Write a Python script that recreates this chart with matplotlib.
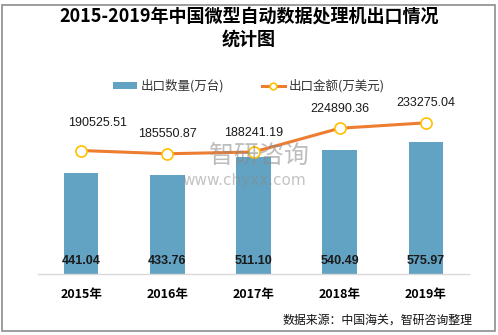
import matplotlib
matplotlib.use('Agg')
import matplotlib.pyplot as plt
from matplotlib.patches import Rectangle

plt.rcParams['font.family'] = ['Noto Sans CJK SC', 'DejaVu Sans']

years = ['2015年', '2016年', '2017年', '2018年', '2019年']
qty = [441.04, 433.76, 511.10, 540.49, 575.97]          # 出口数量(万台)
amount = [190525.51, 185550.87, 188241.19, 224890.36, 233275.04]  # 出口金额(万美元)

bar_color = '#62A3C3'
line_color = '#ED7D31'

fig = plt.figure(figsize=(4.98, 3.35), dpi=100)
ax = fig.add_axes([0.0763, 0.1821, 0.8655, 0.5552])
ax2 = ax.twinx()

x = list(range(len(years)))
ax.bar(x, qty, width=0.4, color=bar_color, zorder=2, label='出口数量(万台)')
ax.set_xlim(-0.5, 4.5)
ax.set_ylim(0, 814)

for xi, v in zip(x, qty):
    ax.text(xi, 55, f'{v:.2f}', ha='center', va='center', fontsize=9,
            fontweight='bold', family=['Liberation Sans'], color='#1a1a1a', zorder=3)

ax2.plot(x, amount, color=line_color, lw=2.2, marker='o', ms=8,
         mfc='white', mec='#FFC000', mew=1.2, zorder=4, label='出口金额(万美元)')
ax2.set_ylim(0, 287000)

# label offsets in points (first one sits a bit higher and to the right)
offsets = [(12, 20), (0, 14), (0, 14), (0, 14), (0, 14)]
for xi, v, off in zip(x, amount, offsets):
    ax2.annotate(f'{v:.2f}', (xi, v), xytext=off, textcoords='offset points',
                 ha='center', va='center', fontsize=9, family=['Liberation Sans'],
                 color='#1a1a1a')

for a in (ax, ax2):
    for s in a.spines.values():
        s.set_visible(False)
    a.set_yticks([])
ax.spines['bottom'].set_visible(True)
ax.spines['bottom'].set_color('#D9D9D9')
ax.spines['bottom'].set_linewidth(1.0)
ax.set_xticks(x)
ax.set_xticklabels(years, fontsize=9, fontweight='bold')
ax.tick_params(axis='x', length=0, pad=10)
ax.set_zorder(1)
ax2.set_zorder(2)
ax.patch.set_visible(False)
ax2.patch.set_visible(False)

# legend
h1, l1 = ax.get_legend_handles_labels()
h2, l2 = ax2.get_legend_handles_labels()
fig.legend(h1 + h2, l1 + l2, loc='center', bbox_to_anchor=(0.5, 0.743), ncol=2,
           frameon=False, fontsize=9, handlelength=1.9, handleheight=0.4,
           columnspacing=3.0, markerscale=0.6,
           handletextpad=0.3, labelcolor='#333333')

fig.text(0.5, 0.918, '2015-2019年中国微型自动数据处理机出口情况\n统计图', ha='center',
         va='center', fontsize=13, fontweight='bold', linespacing=1.3)

fig.text(0.948, 0.045, '数据来源：中国海关，智研咨询整理', ha='right', va='center',
         fontsize=8.6, color='#111111')

# watermark
fig.text(0.52, 0.535, '智研咨询', ha='center', va='center', fontsize=18,
         color='#888888', alpha=0.55, zorder=10)
fig.text(0.49, 0.462, 'www.chyxx.com', ha='center', va='center', fontsize=11,
         color='#888888', alpha=0.5, zorder=10, family=['DejaVu Sans'])

fig.patches.append(Rectangle((0.005, 0.012), 0.988, 0.973, transform=fig.transFigure,
                             fill=False, edgecolor='#8C8C8C', lw=1.2))

fig.savefig('out.png', dpi=100)
